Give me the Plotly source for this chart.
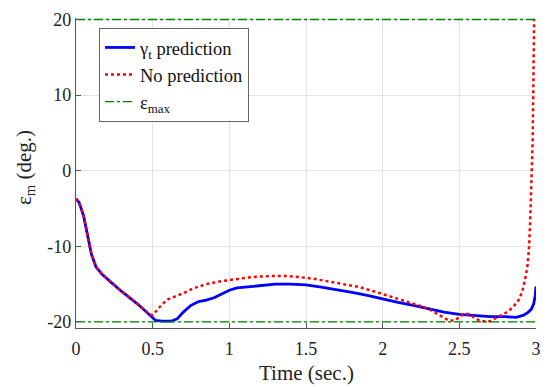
import plotly.graph_objects as go

# Blue: gamma_t prediction
t_pred = [0, 0.02, 0.05, 0.08, 0.1, 0.13, 0.17, 0.22, 0.3, 0.4, 0.48, 0.52, 0.56, 0.62, 0.66,
          0.7, 0.75, 0.8, 0.85, 0.9, 0.95, 1.0, 1.05, 1.1, 1.2, 1.3, 1.4, 1.5, 1.6, 1.7, 1.8,
          1.9, 2.0, 2.1, 2.2, 2.3, 2.4, 2.5, 2.6, 2.7, 2.8, 2.87, 2.92, 2.95, 2.97, 2.985, 2.995, 3.0]
e_pred = [-3.7, -4.2, -6.0, -9.0, -11.0, -12.7, -13.7, -14.6, -16.0, -17.6, -19.0, -19.8, -19.9,
          -19.9, -19.6, -18.7, -17.8, -17.3, -17.1, -16.8, -16.3, -15.8, -15.5, -15.4, -15.2,
          -15.0, -15.0, -15.1, -15.4, -15.7, -16.1, -16.5, -16.9, -17.4, -17.8, -18.3, -18.7,
          -19.0, -19.2, -19.3, -19.3, -19.4, -19.1, -18.7, -18.3, -17.6, -16.5, -15.3]

# Red: no prediction
t_nopred = [0, 0.02, 0.05, 0.08, 0.1, 0.13, 0.17, 0.22, 0.3, 0.4, 0.48, 0.5, 0.53, 0.56, 0.6,
            0.65, 0.7, 0.76, 0.85, 0.95, 1.05, 1.15, 1.25, 1.35, 1.45, 1.55, 1.65, 1.75, 1.85,
            1.95, 2.05, 2.15, 2.25, 2.32, 2.38, 2.43, 2.47, 2.51, 2.54, 2.57, 2.6, 2.64, 2.7,
            2.74, 2.78, 2.82, 2.86, 2.89, 2.91, 2.93, 2.945, 2.955, 2.965, 2.972, 2.978, 2.982,
            2.985, 2.988]
e_nopred = [-3.7, -4.2, -6.0, -9.0, -11.0, -12.7, -13.7, -14.6, -16.0, -17.6, -19.0, -19.1,
            -18.4, -17.7, -17.0, -16.6, -16.2, -15.6, -15.0, -14.6, -14.3, -14.05, -13.95,
            -13.9, -14.05, -14.3, -14.65, -15.0, -15.4, -16.0, -16.6, -17.2, -17.9, -18.5,
            -19.2, -19.8, -19.8, -19.2, -18.9, -19.0, -19.5, -19.9, -19.9, -19.5, -19.1, -18.6,
            -17.8, -17.0, -16.0, -14.3, -12.5, -10.0, -5.0, -1.0, 4.0, 10.0, 15.0, 20.0]

# Limits
t_lim = [0, 3]
e_max = 20

x_ticks = [0, 0.5, 1, 1.5, 2, 2.5, 3]
x_ticktext = ["0", "0.5", "1", "1.5", "2", "2.5", "3"]
y_ticks = [-20, -10, 0, 10, 20]
y_ticktext = ["-20", "-10", "0", "10", "20"]

x_title = "Time (sec.)"
y_title = "ε<sub>m</sub> (deg.)"

FONT = "Liberation Serif"

fig = go.Figure()
fig.add_trace(go.Scatter(x=t_pred, y=e_pred, mode="lines", name="γ<sub>t</sub> prediction",
                         line=dict(color="#0000ff", width=2.8)))
fig.add_trace(go.Scatter(x=t_nopred, y=e_nopred, mode="lines", name="No prediction",
                         line=dict(color="#ff0000", width=2.5, dash="dot")))
fig.add_trace(go.Scatter(x=t_lim, y=[e_max, e_max], mode="lines", name="ε<sub>max</sub>",
                         line=dict(color="#008000", width=1.3, dash="dashdot")))
fig.add_trace(go.Scatter(x=t_lim, y=[-e_max, -e_max], mode="lines", showlegend=False,
                         line=dict(color="#008000", width=1.3, dash="dashdot")))

# page body has an 8px default margin, so the figure is sized/offset to compensate
fig.update_layout(
    template="none",
    width=542, height=379,
    margin=dict(l=68, r=14, t=10, b=59, pad=0),
    paper_bgcolor="white", plot_bgcolor="white",
    font=dict(family=FONT, size=18, color="#222222"),
    legend=dict(x=0.05, y=0.968, xanchor="left", yanchor="top",
                bgcolor="white", bordercolor="#666666", borderwidth=1,
                font=dict(family=FONT, size=18.5, color="#111111"),
                tracegroupgap=0, itemwidth=30),
    xaxis=dict(range=[0, 3], tickvals=x_ticks, ticktext=x_ticktext, automargin=False,
               tickfont=dict(family=FONT, size=18, color="#222222"),
               showgrid=True, gridcolor="#e3e3e3", gridwidth=1,
               showline=True, linecolor="#555555", linewidth=1.2,
               ticks="inside", ticklen=5, tickcolor="#555555", ticklabelstandoff=4,
               zeroline=False, mirror=False),
    yaxis=dict(range=[-20.8, 20.2], tickvals=y_ticks, ticktext=y_ticktext, automargin=False,
               tickfont=dict(family=FONT, size=18, color="#222222"),
               showgrid=True, gridcolor="#e3e3e3", gridwidth=1,
               showline=True, linecolor="#555555", linewidth=1.2,
               ticks="inside", ticklen=5, tickcolor="#555555",
               zeroline=False, mirror=False),
    annotations=[
        dict(text=x_title, xref="paper", yref="paper", x=0.5, y=0, xanchor="center",
             yanchor="middle", yshift=-45, showarrow=False,
             font=dict(family=FONT, size=21, color="#222222")),
        dict(text=y_title, xref="paper", yref="paper", x=0, y=0.516, xanchor="center",
             yanchor="middle", xshift=-51, textangle=-90, showarrow=False,
             font=dict(family=FONT, size=21, color="#222222")),
    ],
)

fig.write_html("out.html")
